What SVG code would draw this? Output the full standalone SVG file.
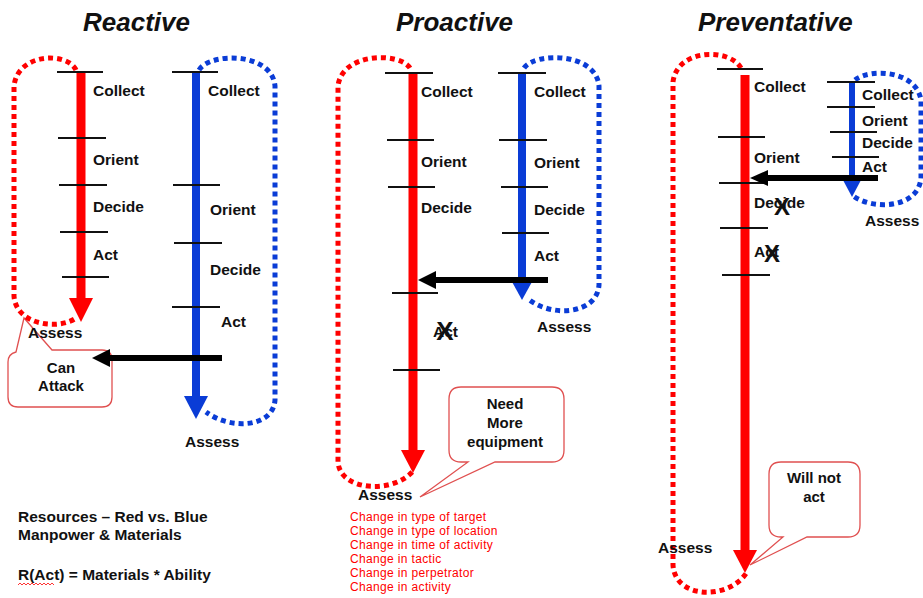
<svg xmlns="http://www.w3.org/2000/svg" width="923" height="598" viewBox="0 0 923 598">
<style>
.t{font-family:"Liberation Sans",Arial,sans-serif;font-weight:bold;font-size:15.5px;fill:#111}
.title{font-size:26px;font-style:italic}
.c{text-anchor:middle;font-size:15px}
.x{font-size:24px;text-anchor:middle}
.tick{stroke:#111;stroke-width:2}
.rdot{fill:none;stroke:#ff0000;stroke-width:5;stroke-dasharray:5 4}
.bdot{fill:none;stroke:#0a3cd6;stroke-width:5;stroke-dasharray:5 4}
.rline{stroke:#ff0000;stroke-width:9}
.bline{stroke:#0a3cd6;stroke-width:8}
.kline{stroke:#000;stroke-width:6}
.rhead{fill:#ff0000}
.bhead{fill:#0a3cd6}
.khead{fill:#000}
.call{fill:#fff;stroke:#e05050;stroke-width:1.3}
.ch{font-family:"Liberation Sans",Arial,sans-serif;font-size:12px;letter-spacing:0.35px;fill:#ff0000}
</style>
<rect width="923" height="598" fill="#fff"/>

<g id="titles">
<text class="t title" x="83" y="31">Reactive</text>
<text class="t title" x="396" y="31">Proactive</text>
<text class="t title" x="698" y="31">Preventative</text>
</g>

<g id="reactive-callout">
<path class="call" d="M16,352 L24,318 L52,350 L102,350 Q112,350 112,360 L112,397 Q112,407 102,407 L18,407 Q8,407 8,397 L8,362 Q8,354 16,352 Z"/>
<text class="t c" x="61" y="373">Can</text>
<text class="t c" x="61" y="391">Attack</text>
</g>

<g id="reactive-red">
<path class="rdot" d="M76,70 C68,52 18,52 14,86 L14,296 C16,326 60,330 76,318"/>
<line class="rline" x1="81" y1="72" x2="81" y2="300"/>
<polygon class="rhead" points="69,298 93,298 81,322"/>
<line class="tick" x1="57" y1="72" x2="103" y2="72"/>
<line class="tick" x1="58" y1="138" x2="106" y2="138"/>
<line class="tick" x1="59" y1="185" x2="107" y2="185"/>
<line class="tick" x1="60" y1="232" x2="108" y2="232"/>
<line class="tick" x1="62" y1="277" x2="109" y2="277"/>
<text class="t" x="93" y="96">Collect</text>
<text class="t" x="93" y="165">Orient</text>
<text class="t" x="93" y="212">Decide</text>
<text class="t" x="93" y="260">Act</text>
<text class="t" x="28" y="338">Assess</text>
</g>

<g id="reactive-blue">
<path class="bdot" d="M199,70 C210,52 272,52 275,86 L275,400 C273,428 230,430 206,412"/>
<line class="bline" x1="196" y1="72" x2="196" y2="398"/>
<polygon class="bhead" points="184,396 208,396 196,419"/>
<line class="tick" x1="172" y1="72" x2="218" y2="72"/>
<line class="tick" x1="173" y1="185" x2="220" y2="185"/>
<line class="tick" x1="174" y1="243" x2="222" y2="243"/>
<line class="tick" x1="172" y1="307" x2="220" y2="307"/>
<text class="t" x="208" y="96">Collect</text>
<text class="t" x="210" y="215">Orient</text>
<text class="t" x="210" y="275">Decide</text>
<text class="t" x="221" y="327">Act</text>
<text class="t" x="185" y="447">Assess</text>
</g>

<g id="proactive-red">
<path class="rdot" d="M410,68 C400,52 342,52 338,86 L338,462 C340,492 395,494 414,470"/>
<line class="rline" x1="413" y1="73" x2="413" y2="452"/>
<polygon class="rhead" points="401,450 425,450 413,473"/>
<line class="tick" x1="385" y1="73" x2="433" y2="73"/>
<line class="tick" x1="387" y1="140" x2="434" y2="140"/>
<line class="tick" x1="388" y1="187" x2="435" y2="187"/>
<line class="tick" x1="392" y1="293" x2="438" y2="293"/>
<line class="tick" x1="393" y1="370" x2="440" y2="370"/>
<text class="t" x="421" y="97">Collect</text>
<text class="t" x="421" y="167">Orient</text>
<text class="t" x="421" y="213">Decide</text>
<text class="t" x="433" y="337">Act</text>
<text class="t x" x="445" y="340" style="font-size:26px">X</text>
<text class="t" x="358" y="500">Assess</text>
</g>

<g id="proactive-blue">
<path class="bdot" d="M524,68 C535,52 596,52 599,86 L599,285 C597,315 550,318 527,298"/>
<line class="bline" x1="522" y1="73" x2="522" y2="282"/>
<polygon class="bhead" points="511,280 533,280 522,300"/>
<line class="tick" x1="498" y1="73" x2="546" y2="73"/>
<line class="tick" x1="499" y1="140" x2="547" y2="140"/>
<line class="tick" x1="501" y1="187" x2="548" y2="187"/>
<line class="tick" x1="502" y1="233" x2="549" y2="233"/>
<text class="t" x="534" y="97">Collect</text>
<text class="t" x="534" y="168">Orient</text>
<text class="t" x="534" y="215">Decide</text>
<text class="t" x="534" y="261">Act</text>
<text class="t" x="537" y="332">Assess</text>
</g>

<g id="proactive-callout">
<path class="call" d="M461,387 L552,387 Q564,387 564,399 L564,450 Q564,462 552,462 L495,462 L420,497 L468,462 L461,462 Q449,462 449,450 L449,399 Q449,387 461,387 Z"/>
<text class="t c" x="505" y="409">Need</text>
<text class="t c" x="505" y="428">More</text>
<text class="t c" x="505" y="447">equipment</text>
</g>

<g id="proactive-changes">
<text class="ch" x="350" y="521">Change in type of target</text>
<text class="ch" x="350" y="535">Change in type of location</text>
<text class="ch" x="350" y="549">Change in time of activity</text>
<text class="ch" x="350" y="563">Change in tactic</text>
<text class="ch" x="350" y="577">Change in perpetrator</text>
<text class="ch" x="350" y="591">Change in activity</text>
</g>

<g id="preventative-red">
<path class="rdot" d="M741,68 C730,48 677,48 673,82 L673,565 C675,600 730,600 747,572"/>
<line class="rline" x1="745" y1="75" x2="745" y2="552"/>
<polygon class="rhead" points="733,550 757,550 745,573"/>
<line class="tick" x1="717" y1="69" x2="763" y2="69"/>
<line class="tick" x1="718" y1="137" x2="765" y2="137"/>
<line class="tick" x1="719" y1="183" x2="767" y2="183"/>
<line class="tick" x1="720" y1="228" x2="768" y2="228"/>
<line class="tick" x1="722" y1="275" x2="770" y2="275"/>
<text class="t" x="754" y="92">Collect</text>
<text class="t" x="754" y="163">Orient</text>
<text class="t" x="754" y="208">Decide</text>
<text class="t x" x="782" y="215">X</text>
<text class="t" x="754" y="257">Act</text>
<text class="t x" x="772" y="262">X</text>
<text class="t" x="658" y="553">Assess</text>
</g>

<g id="preventative-blue">
<path class="bdot" d="M855,80 C870,68 916,70 921,100 L921,178 C918,210 870,210 852,195"/>
<line class="bline" x1="852" y1="82" x2="852" y2="182" style="stroke-width:6"/>
<polygon class="bhead" points="843,180 861,180 852,197"/>
<line class="tick" x1="827" y1="82" x2="875" y2="82"/>
<line class="tick" x1="827" y1="107" x2="875" y2="107"/>
<line class="tick" x1="830" y1="132" x2="877" y2="132"/>
<line class="tick" x1="832" y1="157" x2="879" y2="157"/>
<text class="t" x="862" y="100">Collect</text>
<text class="t" x="862" y="126">Orient</text>
<text class="t" x="862" y="148">Decide</text>
<text class="t" x="862" y="172">Act</text>
<text class="t" x="865" y="226">Assess</text>
</g>

<g id="preventative-callout">
<path class="call" d="M781,462 L848,462 Q860,462 860,474 L860,525 Q860,537 848,537 L807,537 L750,565 L783,537 L781,537 Q769,537 769,525 L769,474 Q769,462 781,462 Z"/>
<text class="t c" x="814" y="483">Will not</text>
<text class="t c" x="814" y="502">act</text>
</g>

<g id="connectors">
<line class="kline" x1="222" y1="358" x2="108" y2="358"/>
<polygon class="khead" points="110,349 110,367 92,358"/>
<line class="kline" x1="548" y1="280" x2="434" y2="280"/>
<polygon class="khead" points="436,271 436,289 418,280"/>
<line class="kline" x1="878" y1="178" x2="766" y2="178"/>
<polygon class="khead" points="768,170 768,186 750,178"/>
</g>

<g id="notes">
<text class="t" x="18" y="522">Resources – Red vs. Blue</text>
<text class="t" x="18" y="540">Manpower &amp; Materials</text>
<text class="t" x="18" y="580">R(Act) = Materials * Ability</text>
<path d="M18,585 l2,-2 l2,2 l2,-2 l2,2 l2,-2 l2,2 l2,-2 l2,2 l2,-2 l2,2 l2,-2 l2,2 l2,-2 l2,2 l2,-2 l2,2 l2,-2 l2,2" fill="none" stroke="#ff0000" stroke-width="0.8"/>
</g>
</svg>
